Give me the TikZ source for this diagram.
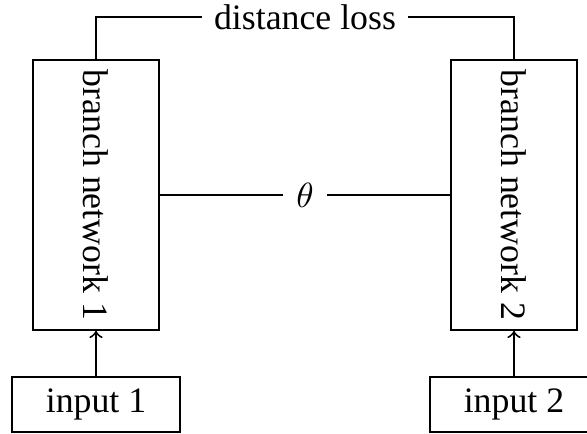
\documentclass[tikz,border=0pt]{standalone}
\usepackage{fontspec}
\setmainfont{Liberation Serif}
\begin{document}
\begin{tikzpicture}[x=0.011cm, y=-0.011cm, semithick,
    branchbox/.style={draw, rotate=-90, minimum width=2.97cm, minimum height=1.386cm, inner sep=0pt},
    inputbox/.style={draw, minimum width=1.85cm, minimum height=0.605cm, inner sep=0pt},
    font=\fontsize{11.2}{13.5}\selectfont]
    \useasboundingbox (0,0) rectangle (587,434);

    % branch networks
    \node[branchbox] (b1) at (96,195) {branch network 1};
    \node[branchbox] (b2) at (514,195) {branch network 2};

    % inputs
    \node[inputbox] (in1) at (96,404.5) {input 1};
    \node[inputbox] (in2) at (514,404.5) {input 2};
    \draw[->] (in1) -- (b1);
    \draw[->] (in2) -- (b2);

    % shared weights and loss
    \node[inner sep=4pt] (theta) at (305,195) {$\theta$};
    \draw (b1) -- (theta) -- (b2);
    \node (loss) at (305,17) {distance loss};
    \draw (b1) |- (loss) -| (b2);
\end{tikzpicture}
\end{document}
